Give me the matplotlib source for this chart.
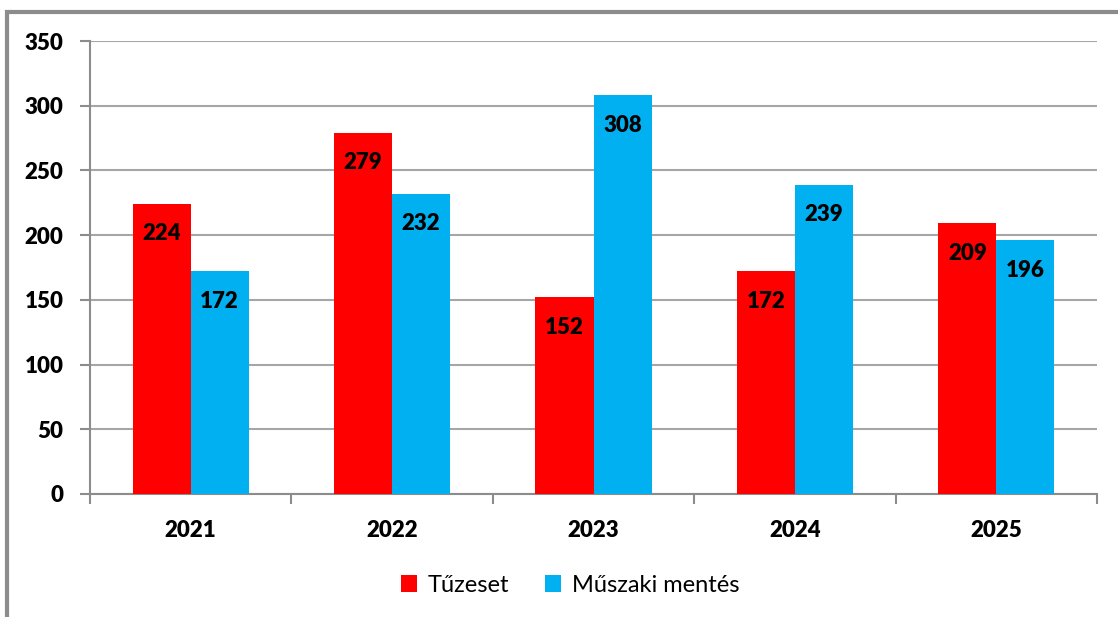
import numpy as np
import matplotlib.pyplot as plt
from matplotlib.patches import Rectangle

years = ['2021', '2022', '2023', '2024', '2025']
tuzeset = [224, 279, 152, 172, 209]
muszaki = [172, 232, 308, 239, 196]
series_names = ['Tűzeset', 'Műszaki mentés']

plt.rcParams['font.family'] = ['Lato', 'DejaVu Sans']
wt = 'heavy'

W, H = 1118, 617
fig = plt.figure(figsize=(W / 100, H / 100), dpi=100)
ax = fig.add_axes([90 / W, 1 - 494 / H, (1097 - 90) / W, (494 - 41) / H])

# outer frame (cut off at right and bottom like the reference)
fig.patches.append(Rectangle((7 / W, -0.05), 1.2, 1 - 12 / H + 0.05, transform=fig.transFigure,
                             fill=False, edgecolor='#8c8c8c', linewidth=3, zorder=0))

x = np.arange(len(years))
w = 0.288
red = '#ff0000'
blue = '#00b0f0'
b1 = ax.bar(x - w / 2, tuzeset, w, color=red, label=series_names[0], zorder=3)
b2 = ax.bar(x + w / 2, muszaki, w, color=blue, label=series_names[1], zorder=3)

for bars, vals in [(b1, tuzeset), (b2, muszaki)]:
    for rect, v in zip(bars, vals):
        ax.annotate(str(v), (rect.get_x() + rect.get_width() / 2, v), xytext=(0, -21.5),
                    textcoords='offset points', ha='center', va='center',
                    fontsize=16, fontweight=wt, color='black', zorder=4)

ax.set_xlim(-0.5, len(years) - 0.5)
ax.set_ylim(0, 350)
ax.set_yticks(np.arange(0, 351, 50))
ax.yaxis.grid(True, color='#a6a6a6', linewidth=1.5, zorder=0)
ax.set_axisbelow(True)

ax.set_xticks(x)
ax.set_xticklabels(years, fontsize=16, fontweight=wt)
ax.set_xticks(np.arange(-0.5, len(years)), minor=True)
ax.tick_params(axis='x', which='major', length=0, pad=19)
ax.tick_params(axis='x', which='minor', length=7, width=1.5, color='#8c8c8c', direction='out')
ax.tick_params(axis='y', length=7, width=1.5, color='#8c8c8c', pad=12)
for lbl in ax.get_yticklabels():
    lbl.set_fontsize(16)
    lbl.set_fontweight(wt)

for s in ['top', 'right']:
    ax.spines[s].set_visible(False)
for s in ['left', 'bottom']:
    ax.spines[s].set_color('#8c8c8c')
    ax.spines[s].set_linewidth(1.5)

fig.legend(handles=[b1, b2], labels=series_names, loc='center', bbox_to_anchor=(570 / W, 1 - 585 / H),
           ncol=2, frameon=False, fontsize=17, handlelength=0.7, handleheight=0.7,
           handletextpad=0.45, columnspacing=1.5)

fig.savefig('out.png', dpi=100)
